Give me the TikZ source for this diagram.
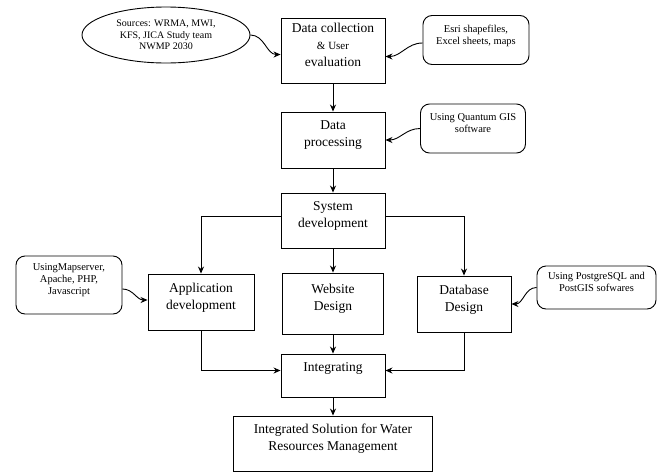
\documentclass[tikz,border=0pt]{standalone}
\usepackage{fontspec}
\setmainfont{Liberation Serif}
\usetikzlibrary{arrows.meta,shapes}

\begin{document}
\begin{tikzpicture}[->,>={Stealth[length=7pt,width=6pt]},x=1pt,y=-1pt,line width=0.9pt]
    \tikzstyle{box}=[draw,rectangle,inner sep=0pt,align=center,text depth=12pt,font=\fontsize{13.5}{17}\selectfont]
    \tikzstyle{note}=[draw,rectangle,rounded corners=9pt,inner sep=0pt,align=center,text depth=11pt,font=\fontsize{10.5}{12}\selectfont]
    \tikzstyle{src}=[draw,ellipse,inner sep=0pt,align=center,font=\fontsize{10}{11.5}\selectfont]

    \useasboundingbox (0,0) rectangle (665,472);

    \node[src,minimum width=168,minimum height=56] (SRC) at (166,35)  {Sources: WRMA, MWI,\\KFS, JICA Study team\\NWMP 2030};
    \node[box,minimum width=104,minimum height=65] (DC) at (333,50.5) {Data collection\\{\fontsize{11}{13}\selectfont\& User}\\evaluation};
    \node[note,minimum width=106,minimum height=49] (ESRI) at (476,40) {Esri shapefiles,\\Excel sheets, maps};
    \node[box,minimum width=104,minimum height=56] (DP) at (333,140)  {Data\\processing};
    \node[note,minimum width=105,minimum height=49] (GIS) at (473,128.5) {Using Quantum GIS\\software};
    \node[box,minimum width=104,minimum height=55] (SD) at (333,220.5) {System\\development};
    \node[box,minimum width=106,minimum height=56] (APP) at (201,302) {Application\\development};
    \node[note,minimum width=106,minimum height=58] (MAP) at (69,285) {UsingMapserver,\\Apache, PHP,\\Javascript};
    \node[box,minimum width=101,minimum height=61] (WEB) at (333,303.5) {Website\\Design};
    \node[box,minimum width=94,minimum height=56] (DB) at (464,304)   {Database\\Design};
    \node[note,minimum width=119,minimum height=43] (PG) at (596.5,287.5) {Using PostgreSQL and\\PostGIS sofwares};
    \node[box,minimum width=104,minimum height=43,text depth=16pt] (INT) at (333,375.5) {Integrating};
    \node[box,minimum width=199,minimum height=55] (SOL) at (333,443.5) {Integrated Solution for Water\\Resources Management};

    \path
     (DC)  edge (DP)
     (DP)  edge (SD)
     (SD)  edge (WEB)
     (WEB) edge (INT)
     (INT) edge (SOL)
     (SRC.east) edge[out=0,in=180] ([yshift=-4pt]DC.west)
     ([yshift=-3pt]ESRI.west) edge[out=180,in=0] ([yshift=-6pt]DC.east)
     (GIS.west) edge[out=180,in=0] (DP.east)
     ([yshift=-4pt]MAP.east) edge[out=0,in=180] ([yshift=2pt]APP.west)
     (PG.west) edge[out=180,in=0] (DB.east);
    \draw ([yshift=4pt]SD.west) -| (APP.north);
    \draw ([yshift=4pt]SD.east) -| (DB.north);
    \draw (APP.south) |- ([yshift=5pt]INT.west);
    \draw (DB.south) |- ([yshift=5pt]INT.east);
\end{tikzpicture}
\end{document}
